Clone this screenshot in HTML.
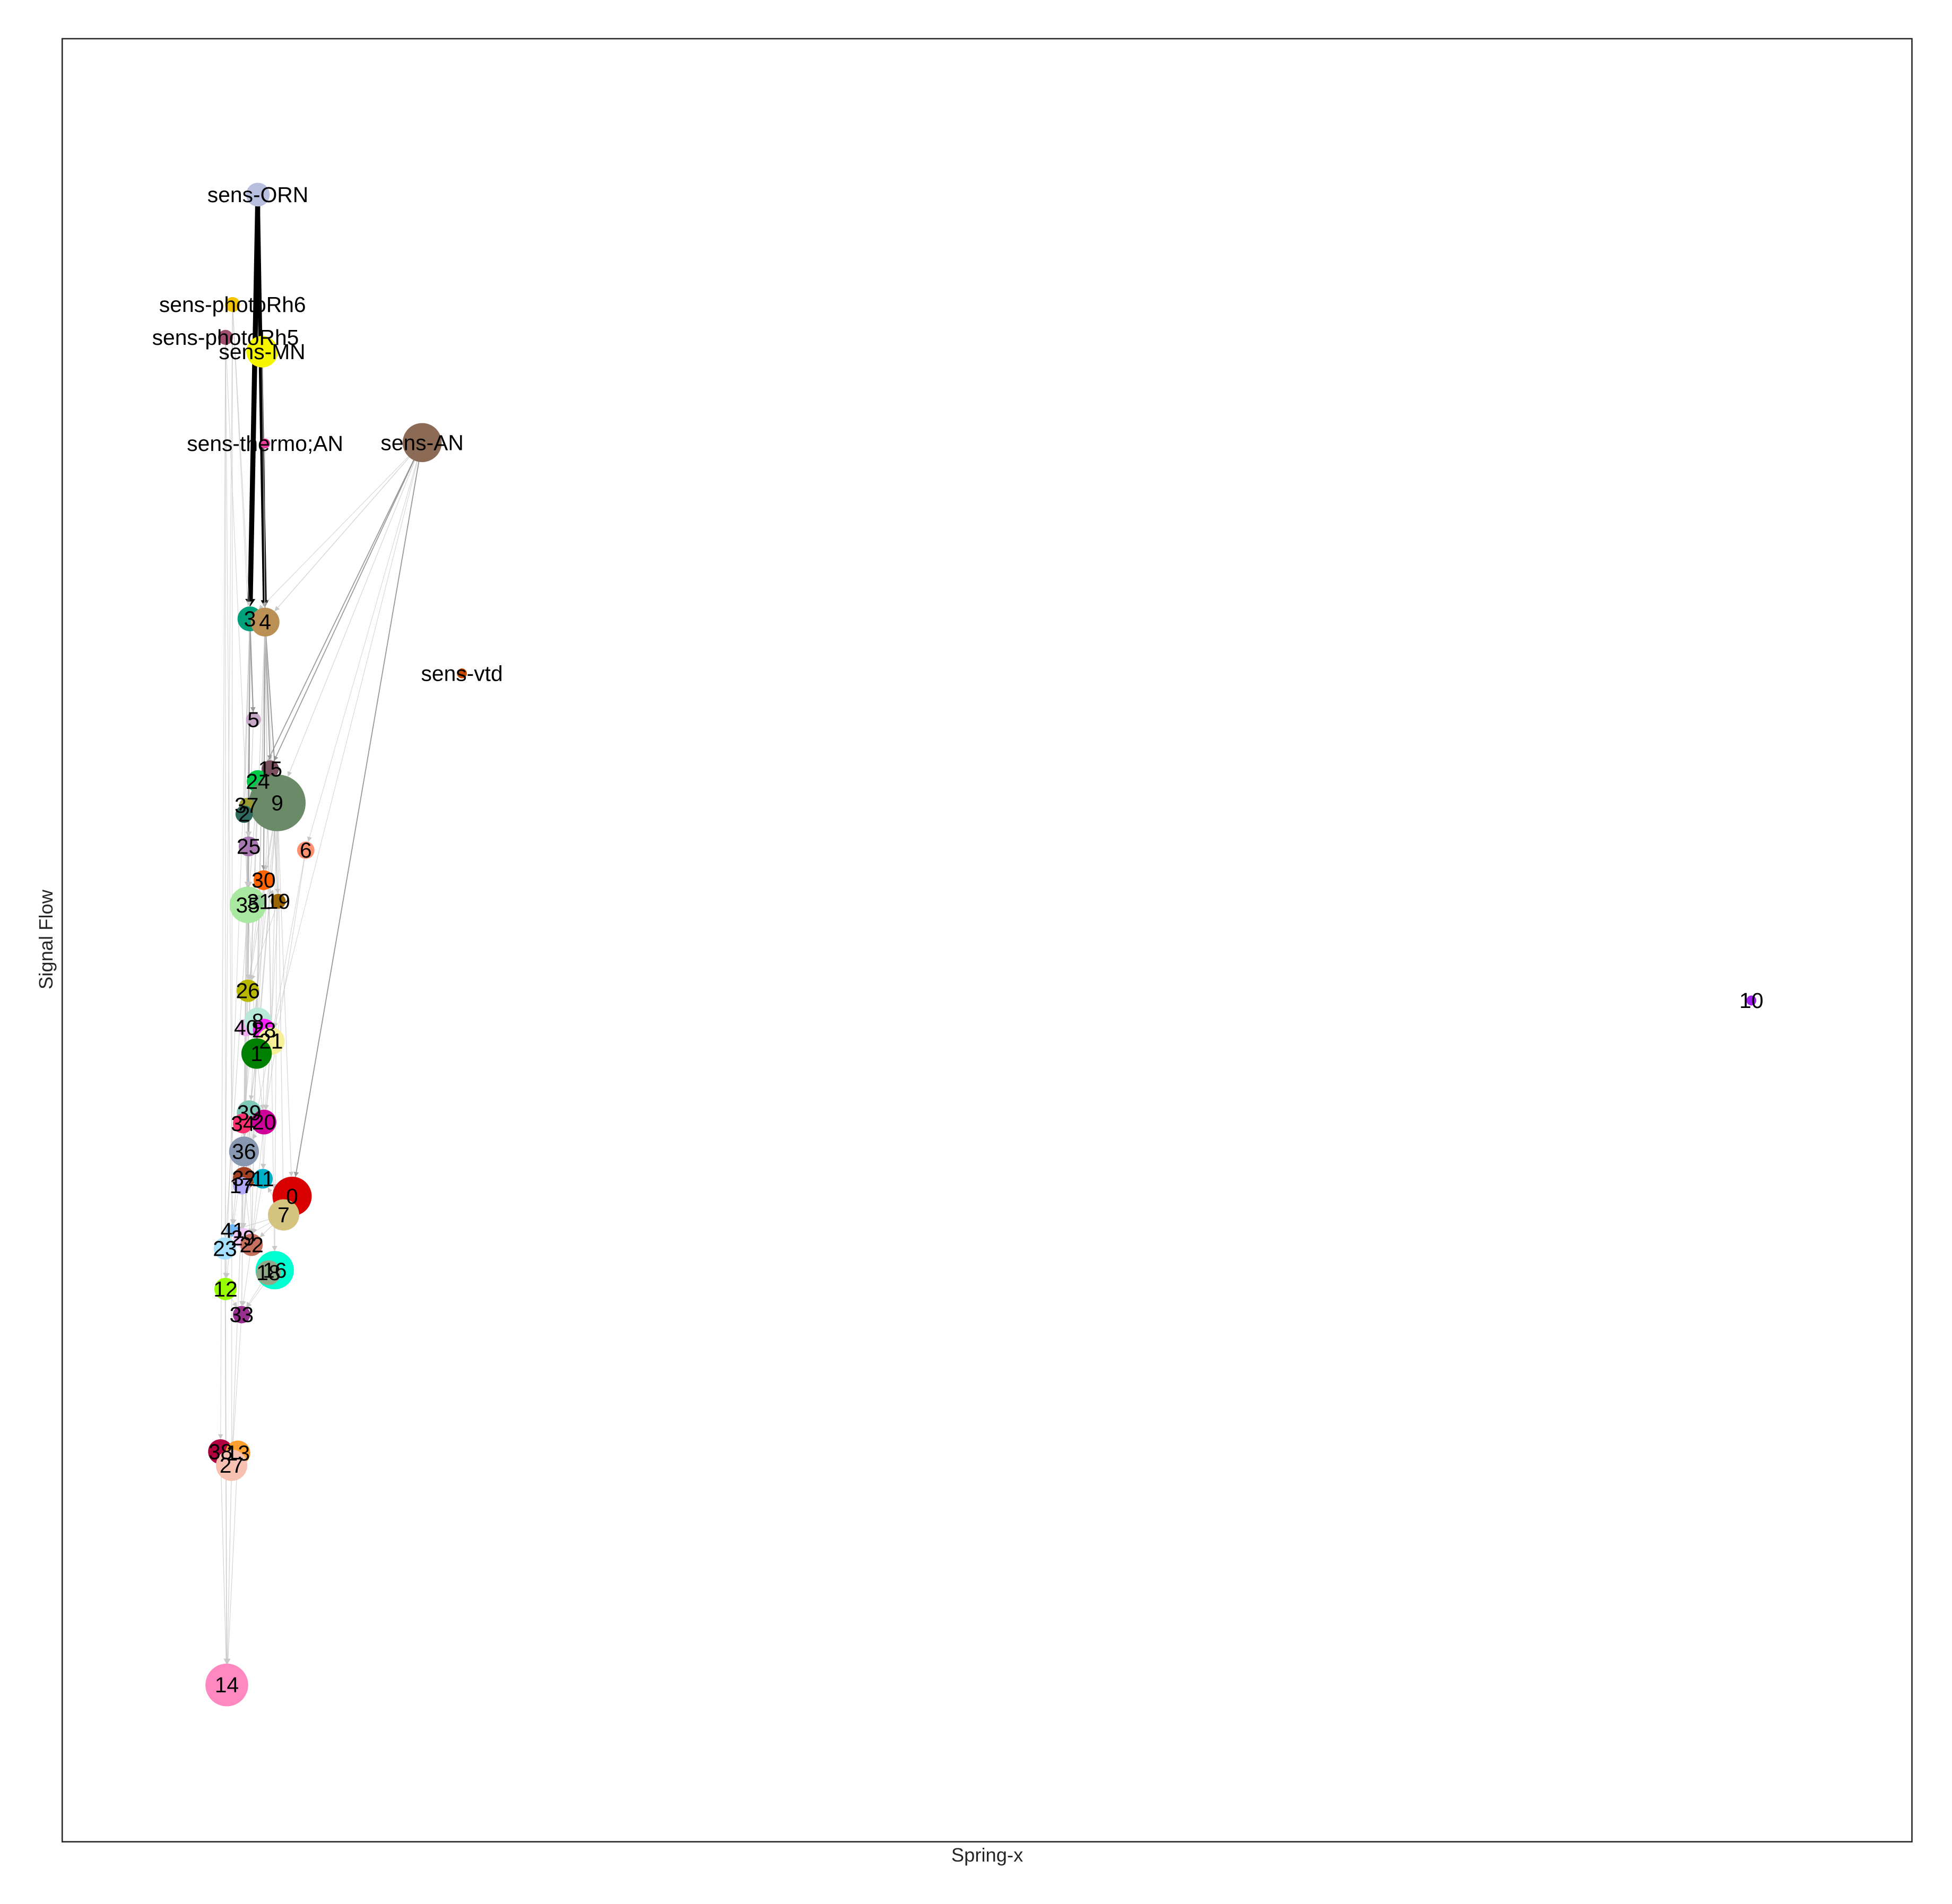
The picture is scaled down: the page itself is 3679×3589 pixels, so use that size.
<!DOCTYPE html>
<html>
<head>
<meta charset="utf-8">
<style>
html,body{margin:0;padding:0;background:#fff;}
svg{display:block;}
text{font-family:"Liberation Sans",Arial,sans-serif;}
</style>
</head>
<body>
<svg id="chart" width="3679" height="3589" viewBox="0 0 1568 1530" xmlns="http://www.w3.org/2000/svg">
<defs>
<marker id="arrGray" viewBox="0 0 10 10" refX="10" refY="5" markerWidth="4" markerHeight="4" markerUnits="userSpaceOnUse" orient="auto"><path d="M0,0 L10,5 L0,10 z" fill="#c8c8c8"/></marker>
<marker id="arrDark" viewBox="0 0 10 10" refX="10" refY="5" markerWidth="4" markerHeight="4" markerUnits="userSpaceOnUse" orient="auto"><path d="M0,0 L10,5 L0,10 z" fill="#999"/></marker>
</defs>
<rect x="49.8" y="31.1" width="1486.2" height="1448.9" fill="#fff"/>
<g id="edges"></g>
<g id="nodes"></g>
<g id="labels"></g>
<rect x="49.8" y="31.1" width="1486.2" height="1448.9" fill="none" stroke="#262626" stroke-width="1.1"/>
<text x="793" y="1496" font-size="15.5" fill="#262626" text-anchor="middle">Spring-x</text>
<text x="0" y="0" font-size="15.5" fill="#262626" text-anchor="middle" transform="translate(42,755) rotate(-90)">Signal Flow</text>
</svg>
<script>
var nodeNames = ["sens-ORN","sens-photoRh6","sens-photoRh5","sens-MN","sens-thermo;AN","sens-AN","sens-vtd","3","4","5","15","24","9","37","2","25","6","30","35","31","19","26","40","8","28","21","1","39","34","20","36","32","17","11","0","7","41","29","22","23","16","18","12","33","38","13","27","14","10"];
var nodeX = [105.9,92.2,88.4,108.2,109.8,194.7,216.2,101.6,109.8,103.5,112.6,105.9,116.4,99.8,98.5,100.9,131.8,109,100.5,106.5,116.9,100.5,99.5,105.9,109.2,113,105.2,101.2,97.8,109.2,98.4,98.4,97.1,108.6,124.4,119.8,92.2,97.8,102.5,88.1,115,111.6,88.4,97.1,85.7,95.1,91.7,89.1,913.2];
var nodeY = [913,851.7,833.4,825.4,774.2,774.7,646,676.4,674.6,620.2,592.7,585.8,573.8,572.4,567.5,549.5,547.4,530.7,516.9,518.8,518.9,469,448.5,452,447.2,440.9,434,401,395,395.8,379.4,364.5,360.3,364.2,354.4,344,335.4,331.2,327.3,325.3,313.2,311.8,302.7,288.4,212,211.3,204.4,81.9,463.6];
var nodeCount = [63,25,25,112,11,171,11,69,93,25,34,56,360,25,34,44,34,44,150,17,25,56,34,84,56,84,104,69,44,69,100,56,34,44,172,110,17,44,56,56,165,69,56,34,69,69,110,205,11];
var nodeColor = ["#b8bfde","#f5c400","#a0506e","#f5f500","#e8409a","#8b6b55","#c84a00","#00a07a","#bb9055","#c8a8c8","#7a5060","#00c848","#6a8a68","#9a9a30","#2e6a5e","#a878b0","#ff9070","#ff6400","#a8e8a0","#90d090","#9a6400","#b8b800","#f0b0f0","#b8e8d8","#ff20ff","#f8f098","#008000","#80c8b8","#ff3070","#d0009a","#8898b0","#a04020","#b0a8f8","#00b0c8","#d80000","#d4c480","#70b8f8","#f0c8f8","#c87060","#a8e0ff","#00ffd0","#90a888","#98ff00","#983090","#b00040","#ffa030","#f8c0b0","#ff88c0","#a020f0"];
var edgeSrc = ["sens-ORN","sens-ORN","sens-MN","sens-AN","sens-AN","sens-AN","sens-AN","sens-AN","sens-AN","sens-AN","sens-photoRh6","sens-photoRh6","sens-photoRh5","sens-photoRh5","sens-thermo;AN","3","3","3","3","3","3","3","4","4","4","4","4","4","4","5","24","9","9","9","9","9","9","9","25","30","35","35","35","26","26","1","1","21","8","39","36","36","0","0","7","7","7","7","16","16","22","29","23","12","27","38","13","27","33","11","20","19","6","15","2","37","31","32","17","41","18","sens-photoRh6","sens-photoRh5","sens-photoRh6","sens-photoRh5","3","4","4","9","9","24","15","35","1","21","28","39","20","36","12","23","38","13","sens-AN","6","19","30"];
var edgeTgt = ["3","4","4","4","15","24","6","0","3","9","3","5","25","12","30","5","25","2","35","26","36","12","15","9","30","19","1","21","16","25","35","30","26","1","0","7","16","21","35","19","26","36","1","36","32","39","20","20","28","34","32","17","11","7","11","22","41","23","18","33","33","22","41","33","14","14","14","13","27","22","36","26","21","19","35","25","26","22","29","23","33","23","41","27","38","33","22","27","12","29","36","1","23","17","32","11","22","22","41","14","14","27","27","21","20","11","29"];
var edgeWeight = [4.5,3.5,1,0.5,0.8,0.8,0.3,0.9,0.3,0.4,0.3,0.3,0.3,0.3,0.3,1,0.8,0.6,1,0.8,0.6,0.3,0.9,0.9,0.8,0.5,0.6,0.5,0.3,0.5,0.5,0.4,0.5,0.4,0.4,0.4,0.3,0.4,0.6,0.4,0.6,0.5,0.4,0.4,0.4,0.4,0.4,0.3,0.3,0.4,0.4,0.4,0.5,0.5,0.5,0.5,0.4,0.3,0.4,0.3,0.3,0.3,0.3,0.3,0.5,0.5,0.4,0.3,0.3,0.3,0.3,0.3,0.3,0.3,0.3,0.3,0.3,0.3,0.3,0.3,0.3,0.3,0.3,0.3,0.3,0.6,0.6,0.4,0.4,0.4,0.4,0.4,0.4,0.3,0.3,0.3,0.3,0.3,0.3,0.5,0.5,0.3,0.3,0.3,0.3,0.3,0.3];

var NS = "http://www.w3.org/2000/svg";
function xScale(v){ return 49.6 + v * 1.4864; }
function yScale(v){ return 1472 - v * 1.441; }
function rScale(c){ return 1.2 * Math.sqrt(c); }
function idx(name){ return nodeNames.indexOf(name); }

var eg = document.getElementById('edges');
var ng = document.getElementById('nodes');
var lg = document.getElementById('labels');

for (var i = 0; i < edgeSrc.length; i++) {
  var s = idx(edgeSrc[i]), t = idx(edgeTgt[i]);
  if (s < 0 || t < 0) continue;
  var x1 = xScale(nodeX[s]), y1 = yScale(nodeY[s]);
  var x2 = xScale(nodeX[t]), y2 = yScale(nodeY[t]);
  var dx = x2 - x1, dy = y2 - y1, L = Math.sqrt(dx*dx + dy*dy) || 1;
  var rt = rScale(nodeCount[t]);
  var ex = x2 - dx / L * rt, ey = y2 - dy / L * rt;
  var w = edgeWeight[i];
  var line = document.createElementNS(NS, 'line');
  
  
  line.setAttribute('x1', x1); line.setAttribute('y1', y1);
  if (w >= 2) {
    var ax = ex - dx / L * 6, ay = ey - dy / L * 6;
    line.setAttribute('x2', ax); line.setAttribute('y2', ay);
    line.setAttribute('stroke', '#000');
    line.setAttribute('stroke-width', w * 0.9);
    eg.appendChild(line);
    var px = -dy / L, py = dx / L, hw = w * 0.9;
    var tri = document.createElementNS(NS, 'path');
    
    
    tri.setAttribute('d', 'M' + (ax + px*hw) + ',' + (ay + py*hw) + ' L' + ex + ',' + ey + ' L' + (ax - px*hw) + ',' + (ay - py*hw) + ' z');
    tri.setAttribute('fill', '#000');
    eg.appendChild(tri);
  } else {
    line.setAttribute('x2', ex); line.setAttribute('y2', ey);
    var dark = w >= 0.7;
    line.setAttribute('stroke', dark ? '#8c8c8c' : '#c4c4c4');
    line.setAttribute('stroke-opacity', dark ? 0.85 : 0.7);
    line.setAttribute('stroke-width', 0.3 + w * 0.6);
    line.setAttribute('marker-end', dark ? 'url(#arrDark)' : 'url(#arrGray)');
    eg.appendChild(line);
  }
}

for (var j = 0; j < nodeNames.length; j++) {
  var c = document.createElementNS(NS, 'circle');
  
  
  c.setAttribute('cx', xScale(nodeX[j]));
  c.setAttribute('cy', yScale(nodeY[j]));
  c.setAttribute('r', rScale(nodeCount[j]));
  c.setAttribute('fill', nodeColor[j]);
  ng.appendChild(c);
}
for (var k = 0; k < nodeNames.length; k++) {
  var tx = document.createElementNS(NS, 'text');
  
  
  tx.setAttribute('x', xScale(nodeX[k]));
  tx.setAttribute('y', yScale(nodeY[k]) + 6);
  tx.setAttribute('font-size', '17.4');
  tx.setAttribute('text-anchor', 'middle');
  tx.setAttribute('fill', '#000');
  tx.textContent = nodeNames[k];
  lg.appendChild(tx);
}
</script>
</body>
</html>
